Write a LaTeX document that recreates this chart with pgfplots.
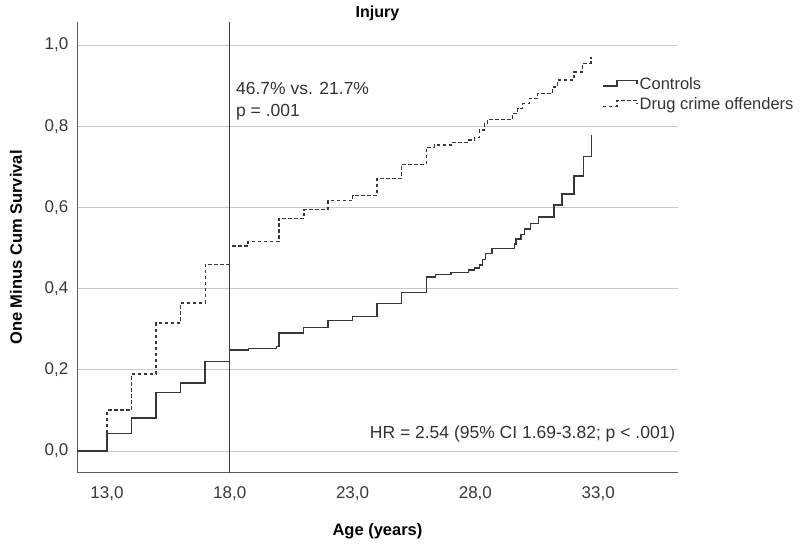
\documentclass[border=0pt]{standalone}
\usepackage{fontspec}
\setmainfont{Liberation Sans}
\usepackage{pgfplots}
\pgfplotsset{compat=1.18}
\definecolor{grid}{RGB}{200,200,200}
\definecolor{axl}{RGB}{90,90,90}
\definecolor{crv}{RGB}{55,55,55}
\begin{document}
\begin{tikzpicture}
\useasboundingbox (0,0) rectangle (804pt,-545pt);
\begin{axis}[
  at={(77pt,-473pt)}, anchor=south west,
  scale only axis, width=601pt, height=451pt,
  xmin=11.78, xmax=36.25, ymin=-0.054, ymax=1.057,
  axis x line*=bottom, axis y line*=left,
  axis line style={draw=axl, line width=1pt, -},
  major tick length=0pt,
  xtick={13,18,23,28,33}, ytick={0,0.2,0.4,0.6,0.8,1.0},
  ymajorgrids, grid style={draw=grid, line width=1pt},
  /pgf/number format/.cd, fixed, fixed zerofill, precision=1, use comma, assume math mode=true,
  /pgfplots/.cd,
  tick label style={font=\fontsize{17}{19}\selectfont, text=black!78},
  xticklabel style={anchor=north, inner sep=0pt, yshift=-13pt},
  yticklabel style={anchor=east, inner sep=0pt, xshift=-8.5pt},
  title={Injury},
  title style={at={(0.5,1)}, anchor=base, yshift=-2pt, inner sep=0pt, font=\bfseries\fontsize{16}{18}\selectfont},
  xlabel={Age (years)}, ylabel={One Minus Cum Survival},
  label style={font=\bfseries\fontsize{16.5}{18}\selectfont},
  xlabel style={at={(axis description cs:0.5,0)}, anchor=base, yshift=-63pt},
  ylabel style={at={(axis description cs:0,0.5)}, anchor=center, yshift=61pt},
  legend style={draw=none, fill=none, at={(axis description cs:0.872,0.885)}, anchor=north west,
    font=\fontsize{16.5}{18}\selectfont, inner sep=1pt, row sep=3pt, text=black!80},
  legend cell align=left,
  legend image code/.code={\draw[#1] (0pt,-2pt) -- (14pt,-2pt) -- (14pt,3.5pt) -- (34pt,3.5pt) -- (34pt,0pt);},
]
\addplot[const plot, color=crv, line width=1.45pt] coordinates {
(11.78,0) (13.0,0.043) (14.0,0.082) (15.0,0.144) (16.0,0.168) (17.0,0.220)
(18.0,0.249) (18.77,0.253) (19.9,0.257) (20.0,0.291) (21.0,0.305) (22.0,0.321)
(23.0,0.331) (24.0,0.364) (25.0,0.390) (26.0,0.429) (26.37,0.435) (27.01,0.440)
(27.73,0.446) (27.96,0.451) (28.16,0.458) (28.30,0.472) (28.41,0.487) (28.68,0.499)
(29.59,0.510) (29.66,0.522) (29.86,0.534) (29.99,0.547) (30.24,0.561) (30.57,0.577)
(31.21,0.606) (31.52,0.633) (32.02,0.678) (32.40,0.725) (32.73,0.778)
};
\addlegendentry{Controls}
\addplot[const plot, color=crv, line width=1.4pt, dash pattern=on 3.5pt off 2.5pt] coordinates {
(11.78,0) (13.0,0.101) (14.0,0.190) (15.0,0.316) (16.0,0.365) (17.0,0.460)
(18.0,0.505) (18.74,0.516) (20.0,0.573) (21.02,0.595) (22.0,0.617) (23.0,0.630)
(24.0,0.672) (25.0,0.706) (26.0,0.748) (26.33,0.754) (27.01,0.760) (27.69,0.766)
(27.96,0.772) (28.16,0.791) (28.37,0.807) (28.5,0.817) (29.52,0.832) (29.72,0.844)
(29.92,0.856) (30.2,0.869) (30.53,0.881) (31.14,0.897) (31.35,0.914) (32.02,0.934)
(32.36,0.955) (32.70,0.971)
};
\addlegendentry{Drug crime offenders}
\draw[color=black!78, line width=1.2pt] (axis cs:18,-0.054) -- (axis cs:18,1.057);
\node[anchor=base west, inner sep=0pt, font=\fontsize{17.5}{19}\selectfont, text=black!80] at (axis cs:18.25,0.878) {46.7\% vs. 21.7\%};
\node[anchor=base west, inner sep=0pt, font=\fontsize{17.5}{19}\selectfont, text=black!80] at (axis cs:18.25,0.825) {p = .001};
\node[anchor=base east, inner sep=0pt, font=\fontsize{17.5}{19}\selectfont, text=black!80] at (axis cs:36.15,0.032) {HR = 2.54 (95\% CI 1.69-3.82; p < .001)};
\end{axis}
\end{tikzpicture}
\end{document}
